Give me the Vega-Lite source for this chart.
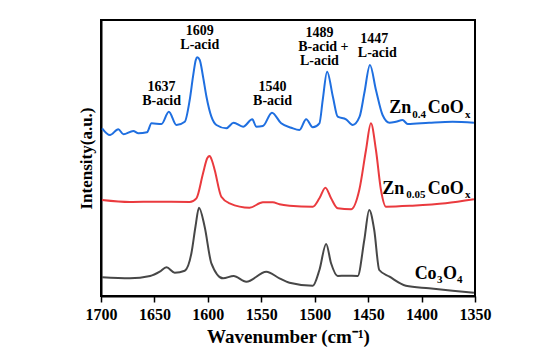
{
  "$schema": "https://vega.github.io/schema/vega-lite/v6.json",
  "autosize": {"type": "none"},
  "width": 374,
  "height": 276,
  "padding": {"left": 101, "top": 20, "right": 78, "bottom": 60},
  "background": "white",
  "config": {
    "view": {"stroke": "black", "strokeWidth": 2},
    "axis": {"labelFont": "Liberation Serif", "titleFont": "Liberation Serif", "labelFontWeight": "bold", "titleFontWeight": "bold", "labelColor": "black", "titleColor": "black", "domainColor": "black", "domainWidth": 2, "tickColor": "black", "tickWidth": 1.5, "grid": false},
    "text": {"font": "Liberation Serif", "fontWeight": "bold", "color": "black"}
  },
  "datasets": {
    "spectra": [
      {"s":"Zn0.4CoOx","w":1699,"i":167.7},{"s":"Zn0.4CoOx","w":1691.6,"i":161},{"s":"Zn0.4CoOx","w":1683.8,"i":166.7},{"s":"Zn0.4CoOx","w":1679,"i":161.7},{"s":"Zn0.4CoOx","w":1669.8,"i":165},{"s":"Zn0.4CoOx","w":1665,"i":162.7},{"s":"Zn0.4CoOx","w":1657,"i":163.7},{"s":"Zn0.4CoOx","w":1652.7,"i":172.7},{"s":"Zn0.4CoOx","w":1643.4,"i":172},{"s":"Zn0.4CoOx","w":1636.5,"i":184.3},{"s":"Zn0.4CoOx","w":1629.4,"i":171},{"s":"Zn0.4CoOx","w":1621.6,"i":174.3},{"s":"Zn0.4CoOx","w":1617,"i":196},{"s":"Zn0.4CoOx","w":1613.9,"i":219.3},{"s":"Zn0.4CoOx","w":1611.3,"i":236},{"s":"Zn0.4CoOx","w":1610,"i":238.7},{"s":"Zn0.4CoOx","w":1607.6,"i":236},{"s":"Zn0.4CoOx","w":1604.5,"i":219.3},{"s":"Zn0.4CoOx","w":1601.3,"i":199.3},{"s":"Zn0.4CoOx","w":1596.7,"i":179.3},{"s":"Zn0.4CoOx","w":1592,"i":171},{"s":"Zn0.4CoOx","w":1582.7,"i":167.7},{"s":"Zn0.4CoOx","w":1575.9,"i":173.3},{"s":"Zn0.4CoOx","w":1567,"i":169.3},{"s":"Zn0.4CoOx","w":1558.4,"i":176.7},{"s":"Zn0.4CoOx","w":1554.7,"i":169.3},{"s":"Zn0.4CoOx","w":1548.5,"i":170},{"s":"Zn0.4CoOx","w":1540,"i":183.3},{"s":"Zn0.4CoOx","w":1531.4,"i":172.7},{"s":"Zn0.4CoOx","w":1522,"i":168.3},{"s":"Zn0.4CoOx","w":1514.3,"i":166},{"s":"Zn0.4CoOx","w":1508,"i":176.7},{"s":"Zn0.4CoOx","w":1501.8,"i":168.7},{"s":"Zn0.4CoOx","w":1495.6,"i":172.7},{"s":"Zn0.4CoOx","w":1492.5,"i":196},{"s":"Zn0.4CoOx","w":1488.4,"i":224.3},{"s":"Zn0.4CoOx","w":1483,"i":199.3},{"s":"Zn0.4CoOx","w":1478.5,"i":179.3},{"s":"Zn0.4CoOx","w":1470.7,"i":176.7},{"s":"Zn0.4CoOx","w":1464.5,"i":171},{"s":"Zn0.4CoOx","w":1458,"i":179.3},{"s":"Zn0.4CoOx","w":1453.6,"i":202.7},{"s":"Zn0.4CoOx","w":1448.3,"i":231},{"s":"Zn0.4CoOx","w":1442.7,"i":206},{"s":"Zn0.4CoOx","w":1436.5,"i":181},{"s":"Zn0.4CoOx","w":1430,"i":173.3},{"s":"Zn0.4CoOx","w":1424,"i":174.3},{"s":"Zn0.4CoOx","w":1417.8,"i":176},{"s":"Zn0.4CoOx","w":1413,"i":172},{"s":"Zn0.4CoOx","w":1393,"i":173.3},{"s":"Zn0.4CoOx","w":1371,"i":174.3},{"s":"Zn0.4CoOx","w":1351,"i":173.3},
      {"s":"Zn0.05CoOx","w":1699,"i":96},{"s":"Zn0.05CoOx","w":1673,"i":94},{"s":"Zn0.05CoOx","w":1648,"i":94.3},{"s":"Zn0.05CoOx","w":1617,"i":94},{"s":"Zn0.05CoOx","w":1610.7,"i":97.7},{"s":"Zn0.05CoOx","w":1604.5,"i":122.7},{"s":"Zn0.05CoOx","w":1600.5,"i":138},{"s":"Zn0.05CoOx","w":1598.3,"i":140},{"s":"Zn0.05CoOx","w":1596,"i":135},{"s":"Zn0.05CoOx","w":1593.6,"i":126},{"s":"Zn0.05CoOx","w":1587.4,"i":99.3},{"s":"Zn0.05CoOx","w":1579.6,"i":92.7},{"s":"Zn0.05CoOx","w":1561,"i":88.3},{"s":"Zn0.05CoOx","w":1548.5,"i":93.7},{"s":"Zn0.05CoOx","w":1539.2,"i":93.7},{"s":"Zn0.05CoOx","w":1533,"i":91.7},{"s":"Zn0.05CoOx","w":1523.6,"i":90.3},{"s":"Zn0.05CoOx","w":1501.8,"i":89.3},{"s":"Zn0.05CoOx","w":1495.6,"i":97.7},{"s":"Zn0.05CoOx","w":1490,"i":108.3},{"s":"Zn0.05CoOx","w":1484.7,"i":97.7},{"s":"Zn0.05CoOx","w":1478.5,"i":87.7},{"s":"Zn0.05CoOx","w":1466,"i":86.7},{"s":"Zn0.05CoOx","w":1458.3,"i":106},{"s":"Zn0.05CoOx","w":1452,"i":146},{"s":"Zn0.05CoOx","w":1447.4,"i":172.7},{"s":"Zn0.05CoOx","w":1442.7,"i":146},{"s":"Zn0.05CoOx","w":1438,"i":106},{"s":"Zn0.05CoOx","w":1433.3,"i":89.3},{"s":"Zn0.05CoOx","w":1408.5,"i":90.3},{"s":"Zn0.05CoOx","w":1377.4,"i":92.7},{"s":"Zn0.05CoOx","w":1351,"i":96.7},
      {"s":"Co3O4","w":1699,"i":18.7},{"s":"Co3O4","w":1673,"i":17.7},{"s":"Co3O4","w":1654,"i":20},{"s":"Co3O4","w":1645,"i":24.3},{"s":"Co3O4","w":1638.7,"i":28.7},{"s":"Co3O4","w":1631,"i":23.3},{"s":"Co3O4","w":1621.6,"i":25.3},{"s":"Co3O4","w":1615.4,"i":42.7},{"s":"Co3O4","w":1611.5,"i":70},{"s":"Co3O4","w":1608.3,"i":88.3},{"s":"Co3O4","w":1603,"i":69.3},{"s":"Co3O4","w":1596.7,"i":32.7},{"s":"Co3O4","w":1585.8,"i":17.7},{"s":"Co3O4","w":1575.9,"i":20},{"s":"Co3O4","w":1564,"i":14.3},{"s":"Co3O4","w":1545.3,"i":24.3},{"s":"Co3O4","w":1533,"i":17.7},{"s":"Co3O4","w":1523.6,"i":13.3},{"s":"Co3O4","w":1501.8,"i":10.3},{"s":"Co3O4","w":1495.6,"i":26},{"s":"Co3O4","w":1489.3,"i":52},{"s":"Co3O4","w":1484.7,"i":32.7},{"s":"Co3O4","w":1478.5,"i":20},{"s":"Co3O4","w":1470.7,"i":20.3},{"s":"Co3O4","w":1459.8,"i":20},{"s":"Co3O4","w":1453.6,"i":56},{"s":"Co3O4","w":1449,"i":86},{"s":"Co3O4","w":1444.3,"i":66},{"s":"Co3O4","w":1439.6,"i":26},{"s":"Co3O4","w":1430,"i":19.3},{"s":"Co3O4","w":1414.7,"i":10.3},{"s":"Co3O4","w":1393,"i":7.7},{"s":"Co3O4","w":1371,"i":5.3},{"s":"Co3O4","w":1351,"i":3.3}
    ],
    "peaks": [
      {"t":"1637","w":1643.3,"i":209},{"t":"B-acid","w":1643.3,"i":195},
      {"t":"1609","w":1607.6,"i":265},{"t":"L-acid","w":1607.6,"i":251},
      {"t":"1540","w":1539.5,"i":209},{"t":"B-acid","w":1539.5,"i":195},
      {"t":"1489","w":1495.6,"i":263},{"t":"B-acid +","w":1491.9,"i":249},{"t":"L-acid","w":1495.6,"i":235},
      {"t":"1447","w":1444.3,"i":257},{"t":"L-acid","w":1441.5,"i":243}
    ],
    "mainText": [
      {"t":"Zn","w":1430.3,"i":183},{"t":"CoO","w":1394.3,"i":183},
      {"t":"Zn","w":1436.8,"i":102},{"t":"CoO","w":1394.3,"i":102},
      {"t":"Co","w":1406.5,"i":17},{"t":"O","w":1379.9,"i":17}
    ],
    "subText": [
      {"t":"0.4","w":1408.8,"i":178},{"t":"x","w":1359.3,"i":178},
      {"t":"0.05","w":1414.4,"i":98},{"t":"x","w":1359.3,"i":98},
      {"t":"3","w":1385.5,"i":13},{"t":"4","w":1366.8,"i":13}
    ]
  },
  "layer": [
    {
      "data": {"name": "spectra"},
      "mark": {"type": "line", "strokeWidth": 2, "interpolate": "monotone"},
      "encoding": {
        "x": {"field": "w", "type": "quantitative",
          "scale": {"domain": [1350, 1700], "reverse": true, "nice": false, "zero": false},
          "axis": {"title": "Wavenumber (cm⁻¹)", "format": "d", "values": [1350,1375,1400,1425,1450,1475,1500,1525,1550,1575,1600,1625,1650,1675,1700],
            "labelExpr": "datum.value % 50 === 0 ? datum.label : ''",
            "tickSize": {"condition": {"test": "datum.value % 50 === 0", "value": 6}, "value": 3},
            "labelFontSize": 16, "titleFontSize": 19, "labelPadding": 4, "titlePadding": 5, "labelOverlap": false, "labelFlush": false}},
        "y": {"field": "i", "type": "quantitative",
          "scale": {"domain": [0, 276], "nice": false},
          "axis": {"title": "Intensity(a.u.)", "ticks": false, "labels": false, "titleFontSize": 17, "titlePadding": 6}},
        "color": {"field": "s", "type": "nominal",
          "scale": {"domain": ["Zn0.4CoOx", "Zn0.05CoOx", "Co3O4"], "range": ["#1f6fe0", "#ea3a3e", "#474747"]},
          "legend": null}
      }
    },
    {
      "data": {"name": "peaks"},
      "mark": {"type": "text", "fontSize": 14, "baseline": "middle", "align": "center"},
      "encoding": {
        "x": {"field": "w", "type": "quantitative"},
        "y": {"field": "i", "type": "quantitative"},
        "text": {"field": "t"}
      }
    },
    {
      "data": {"name": "mainText"},
      "mark": {"type": "text", "fontSize": 18, "baseline": "alphabetic", "align": "left"},
      "encoding": {
        "x": {"field": "w", "type": "quantitative"},
        "y": {"field": "i", "type": "quantitative"},
        "text": {"field": "t"}
      }
    },
    {
      "data": {"name": "subText"},
      "mark": {"type": "text", "fontSize": 11, "baseline": "alphabetic", "align": "left"},
      "encoding": {
        "x": {"field": "w", "type": "quantitative"},
        "y": {"field": "i", "type": "quantitative"},
        "text": {"field": "t"}
      }
    }
  ]
}
